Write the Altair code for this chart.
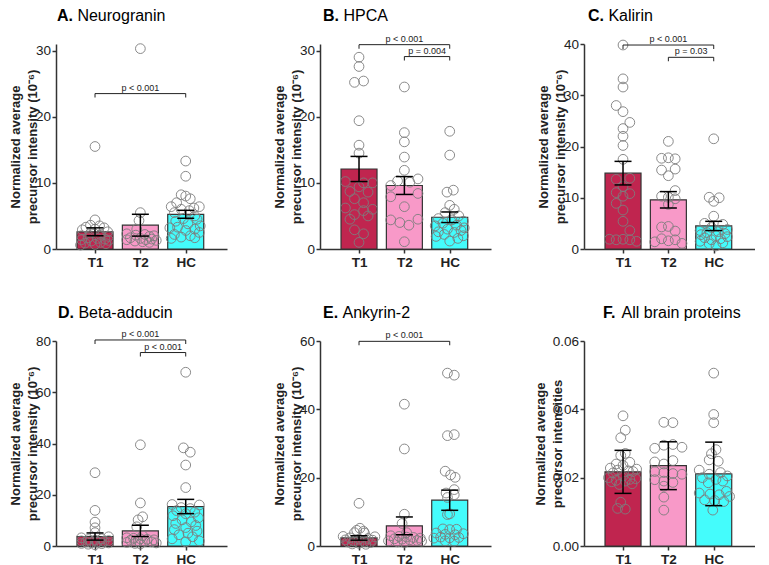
import altair as alt
import pandas as pd

FONT = "Liberation Sans"
GROUPS = ["T1", "T2", "HC"]
BAR_COLORS = ["#C0254F", "#F899C8", "#44FCFC"]

KEYS = ["A", "B", "C", "D", "E", "F"]
LETTERS = ["A.", "B.", "C.", "D.", "E.", "F."]
NAMES = ["Neurogranin", "HPCA", "Kalirin", "Beta-adducin", "Ankyrin-2", "All brain proteins"]
YTITLE_MAIN = ["Normalized average", "precursor intensity (10⁻⁶)"]
YTITLE_ALL = ["Normalized average", "precursor intensities"]
Y_MAX = [31, 31, 40, 80, 60, 0.06]
Y_TICKS = [[0, 10, 20, 30], [0, 10, 20, 30], [0, 10, 20, 30, 40],
           [0, 20, 40, 60, 80], [0, 20, 40, 60], [0, 0.02, 0.04, 0.06]]

# ---- individual points: values and horizontal jitter (in category units) ----
A_T1_VAL = [15.5, 4.4, 3.6, 3.5, 3.3, 3.2, 3.0, 2.9, 2.6, 2.4, 2.2, 2.0, 1.9, 1.7, 1.6, 1.5, 1.4, 1.3, 1.2, 1.0, 0.9, 0.8, 0.7, 0.6]
A_T1_OFF = [0, 0, -0.1, 0.1, -0.2, 0.2, 0, -0.28, 0.28, -0.1, 0.12, -0.3, 0.3, -0.15, 0.05, 0.22, -0.3, 0.3, -0.08, 0.12, -0.22, 0.24, 0, -0.32]
A_T2_VAL = [30.3, 5.5, 4.3, 3.0, 2.3, 2.2, 2.1, 2.0, 1.9, 1.7, 1.6, 1.5, 1.4, 1.4, 1.3, 1.2, 1.1, 1.0]
A_T2_OFF = [0, 0, -0.03, -0.08, -0.3, 0.1, -0.1, 0.3, 0.2, -0.22, 0.0, 0.25, -0.3, 0.12, 0.35, -0.12, 0.05, 0.2]
A_HC_VAL = [13.3, 11.0, 8.2, 8.0, 7.6, 7.0, 6.4, 6.4, 6.2, 6.0, 5.8, 5.5, 5.0, 4.6, 4.5, 4.2, 3.8, 3.5, 3.3, 3.2, 3.0, 2.8, 2.5, 2.2, 2.0, 1.8, 1.7, 1.6]
A_HC_OFF = [0, 0, -0.1, 0, 0.1, -0.2, -0.32, 0.3, 0.18, -0.1, 0.08, -0.25, 0.2, -0.05, 0.25, -0.22, 0.05, 0.32, -0.18, -0.35, 0.2, 0, 0.3, -0.25, 0.1, -0.1, 0.2, -0.32]

B_T1_VAL = [29.0, 27.6, 25.2, 25.4, 19.4, 15.7, 14.5, 10.2, 10.0, 10.0, 9.4, 8.7, 8.6, 7.6, 7.0, 6.2, 6.0, 5.8, 5.2, 5.0, 4.5, 2.9, 2.3, 1.0]
B_T1_OFF = [0, 0, -0.1, 0.1, 0, 0, 0, -0.3, 0.3, 0.1, 0, -0.2, 0.2, -0.1, 0.1, -0.3, 0.3, 0.1, -0.1, 0.2, -0.2, -0.1, 0.1, 0]
B_T2_VAL = [24.5, 17.6, 16.2, 13.9, 11.9, 10.6, 10.3, 10.1, 9.6, 8.4, 7.9, 6.4, 4.5, 4.4, 4.0, 3.6, 1.1]
B_T2_OFF = [0, 0, 0, 0, 0, 0.3, -0.15, 0.12, -0.3, 0.3, -0.3, 0, 0.3, -0.3, -0.1, 0.1, 0]
B_HC_VAL = [17.8, 14.2, 8.9, 8.6, 6.6, 6.0, 5.5, 5.0, 4.6, 4.4, 4.2, 3.9, 3.6, 3.5, 3.2, 3.0, 2.8, 2.6, 2.5, 2.2, 2.0, 1.9, 1.6, 1.2]
B_HC_OFF = [0, 0, 0.08, -0.06, 0, 0.1, -0.1, 0.2, -0.25, 0.05, 0.3, -0.15, 0.15, -0.32, 0.32, -0.05, 0.25, -0.25, 0.1, -0.12, 0.3, -0.3, 0.18, 0]

C_T1_VAL = [39.8, 33.2, 31.6, 28.0, 26.8, 24.7, 23.5, 22.0, 20.2, 17.5, 13.8, 13.6, 12.2, 11.0, 10.8, 10.3, 8.9, 7.6, 5.4, 3.6, 1.9, 1.8, 1.9, 1.8, 1.5]
C_T1_OFF = [0, 0, 0, -0.15, 0, 0.15, 0, 0, 0, 0, 0.15, -0.15, 0, -0.15, 0.15, 0, -0.15, 0, 0, 0.15, -0.3, -0.15, 0, 0.15, 0.3]
C_T2_VAL = [21.0, 17.7, 17.8, 17.6, 15.4, 15.6, 14.3, 11.4, 10.3, 10.1, 9.8, 8.7, 4.4, 4.3, 3.5, 2.0, 1.8, 1.6, 1.4, 1.1]
C_T2_OFF = [0, -0.15, 0, 0.15, -0.15, 0.15, 0, 0.15, -0.15, 0, 0.15, 0, 0, -0.15, 0.15, -0.15, 0.15, 0, -0.3, 0.3]
C_HC_VAL = [21.5, 10.1, 10.0, 9.3, 6.4, 5.0, 4.8, 4.2, 3.8, 3.6, 3.4, 3.2, 3.0, 2.8, 2.6, 2.4, 2.2, 2.0, 1.8, 1.5, 1.2, 1.0, 0.6]
C_HC_OFF = [0, -0.1, 0.12, 0, 0, -0.2, 0.2, -0.05, 0.3, -0.3, 0.1, -0.15, 0.25, -0.28, 0.05, 0.3, -0.2, 0.15, -0.05, -0.3, 0.2, -0.1, 0.05]

D_T1_VAL = [28.6, 13.9, 9.3, 7.1, 5.2, 3.6, 3.2, 2.8, 2.5, 2.3, 2.1, 2.0, 1.8, 1.6, 1.5, 1.3, 1.2, 1.0, 0.9, 0.7, 0.5]
D_T1_OFF = [0, 0, 0, 0, 0, 0.3, -0.3, 0.15, -0.15, 0, 0.3, -0.3, 0.2, -0.2, 0.05, -0.08, 0.3, -0.3, 0.15, -0.15, 0]
D_T2_VAL = [39.5, 16.8, 11.4, 10.2, 7.5, 4.0, 3.2, 3.0, 2.8, 2.6, 2.4, 2.2, 2.0, 1.8, 1.6, 1.4, 1.2, 1.0, 0.8]
D_T2_OFF = [0, 0, 0.05, -0.05, -0.08, 0.05, -0.3, -0.15, 0, 0.15, 0.3, -0.22, -0.05, 0.1, 0.25, -0.3, 0.35, -0.12, 0]
D_HC_VAL = [67.8, 38.3, 36.6, 31.6, 22.8, 16.2, 16.0, 15.0, 14.6, 13.8, 13.2, 12.6, 11.8, 11.0, 10.2, 9.4, 8.8, 8.0, 7.2, 6.4, 5.8, 5.0, 4.4, 3.6, 2.8, 2.0, 1.6]
D_HC_OFF = [0, -0.05, 0.1, 0, 0, -0.3, 0.3, -0.1, 0.1, -0.2, 0.2, 0, -0.28, 0.28, -0.08, 0.12, -0.22, 0.22, 0, -0.25, 0.25, 0.05, -0.15, 0.15, -0.3, 0.3, 0]

E_T1_VAL = [12.5, 5.2, 4.6, 4.3, 3.9, 3.8, 2.8, 2.7, 2.4, 2.2, 2.0, 1.8, 1.7, 1.5, 1.3, 1.2, 1.0, 0.8, 0.6, 0.5]
E_T1_OFF = [0, 0.02, -0.05, 0.1, -0.1, 0.12, -0.35, 0.35, -0.2, 0.2, 0, -0.3, 0.3, -0.12, 0.12, -0.25, 0.25, 0, -0.15, 0.15]
E_T2_VAL = [41.5, 28.4, 9.3, 6.6, 3.9, 3.0, 2.8, 2.6, 2.5, 2.3, 2.1, 2.0, 1.8, 1.6, 1.5, 1.4, 1.2, 1.0]
E_T2_OFF = [0, 0, 0, -0.05, 0.05, -0.3, -0.12, 0.05, 0.2, 0.35, -0.22, -0.05, 0.12, 0.28, -0.35, 0.38, -0.15, 0]
E_HC_VAL = [50.6, 50.0, 32.3, 32.6, 21.9, 20.8, 20.1, 16.5, 15.5, 15.0, 14.2, 9.4, 9.2, 5.0, 4.9, 4.8, 3.8, 3.6, 3.4, 3.3, 2.6, 2.5, 2.4, 2.3, 1.5, 1.4]
E_HC_OFF = [-0.05, 0.1, -0.05, 0.1, -0.1, 0.02, 0.12, 0.1, -0.08, 0.1, -0.05, 0, -0.05, -0.15, 0.15, 0, -0.3, 0.3, -0.1, 0.12, -0.2, 0.2, 0, -0.35, -0.1, 0.1]

F_T1_VAL = [0.0381, 0.0339, 0.0317, 0.0271, 0.0265, 0.0245, 0.0240, 0.0236, 0.0228, 0.0225, 0.0222, 0.0220, 0.0218, 0.0214, 0.0205, 0.0200, 0.0197, 0.0195, 0.0192, 0.0190, 0.0188, 0.0182, 0.0180, 0.0128, 0.0110, 0.0108]
F_T1_OFF = [0, 0.05, -0.05, 0.05, -0.05, 0.15, -0.15, 0, -0.28, 0.3, -0.12, 0.12, 0.22, -0.22, 0, -0.32, 0.28, 0.15, -0.15, 0.05, -0.25, 0.2, -0.08, -0.05, -0.12, 0.05]
F_T2_VAL = [0.0362, 0.0361, 0.0295, 0.0297, 0.0289, 0.0286, 0.0250, 0.0246, 0.0240, 0.0218, 0.0215, 0.0212, 0.0210, 0.0194, 0.0190, 0.0186, 0.0175, 0.0143, 0.0105]
F_T2_OFF = [-0.1, 0.1, -0.1, 0.1, 0.3, -0.3, 0.1, -0.3, -0.1, -0.3, -0.1, 0.1, 0.3, -0.3, -0.1, 0.1, -0.1, -0.1, -0.1]
F_HC_VAL = [0.0506, 0.0385, 0.0361, 0.0282, 0.0270, 0.0252, 0.0248, 0.0222, 0.0215, 0.0210, 0.0205, 0.0200, 0.0195, 0.0190, 0.0185, 0.0160, 0.0155, 0.0152, 0.0150, 0.0145, 0.0135, 0.0133, 0.0130, 0.0105]
F_HC_OFF = [0, 0, 0, 0.05, -0.05, -0.1, 0.1, -0.32, 0.15, -0.1, 0.3, -0.25, 0.05, 0.2, -0.12, 0.28, -0.32, -0.08, 0.12, 0.35, -0.2, 0.02, 0.22, -0.02]

POINTS = {
    "A": [(A_T1_VAL, A_T1_OFF), (A_T2_VAL, A_T2_OFF), (A_HC_VAL, A_HC_OFF)],
    "B": [(B_T1_VAL, B_T1_OFF), (B_T2_VAL, B_T2_OFF), (B_HC_VAL, B_HC_OFF)],
    "C": [(C_T1_VAL, C_T1_OFF), (C_T2_VAL, C_T2_OFF), (C_HC_VAL, C_HC_OFF)],
    "D": [(D_T1_VAL, D_T1_OFF), (D_T2_VAL, D_T2_OFF), (D_HC_VAL, D_HC_OFF)],
    "E": [(E_T1_VAL, E_T1_OFF), (E_T2_VAL, E_T2_OFF), (E_HC_VAL, E_HC_OFF)],
    "F": [(F_T1_VAL, F_T1_OFF), (F_T2_VAL, F_T2_OFF), (F_HC_VAL, F_HC_OFF)],
}

# ---- bar heights (means) and error half-widths, per panel, order T1, T2, HC ----
MEANS = {
    "A": [2.6, 3.6, 5.25],
    "B": [12.1, 9.6, 4.8],
    "C": [14.8, 9.6, 4.5],
    "D": [3.7, 5.9, 15.4],
    "E": [2.35, 5.9, 13.4],
    "F": [0.0217, 0.0235, 0.0211],
}
ERRS = {
    "A": [0.6, 1.65, 0.6],
    "B": [1.9, 1.35, 0.8],
    "C": [2.3, 1.6, 0.9],
    "D": [1.4, 2.2, 2.8],
    "E": [0.65, 2.6, 2.95],
    "F": [0.0063, 0.0070, 0.0093],
}

# ---- significance brackets: (from, to, height, label) ----
BRACKETS = {
    "A": [("T1", "HC", 23.5, "p < 0.001")],
    "B": [("T1", "HC", 30.9, "p < 0.001"), ("T2", "HC", 29.1, "p = 0.004")],
    "C": [("T1", "HC", 39.8, "p < 0.001"), ("T2", "HC", 37.4, "p = 0.03")],
    "D": [("T1", "HC", 80.4, "p < 0.001"), ("T2", "HC", 75.5, "p < 0.001")],
    "E": [("T1", "HC", 59.9, "p < 0.001")],
    "F": [],
}

W, H = 171, 205
TITLE_DX = [1, 3, 4, 2, 3, 19]
LETTER_W = [16.0, 16.0, 16.0, 16.0, 15.1, 14.2]
YTITLE_X = [-34, -34, -34, -34, -34, -37]
POS = {g: i + 1 for i, g in enumerate(GROUPS)}
LABEL_EXPR = " : ".join(f"datum.value == {i + 1} ? '{g}'" for i, g in enumerate(GROUPS)) + " : ''"
INK = "#222222"


def panel(idx):
    key = KEYS[idx]
    ymax = Y_MAX[idx]
    fmt = ".2f" if key == "F" else "d"
    ytitle = YTITLE_ALL if key == "F" else YTITLE_MAIN

    def X(field):
        return alt.X(f"{field}:Q",
                     scale=alt.Scale(domain=[0.25, 3.8], nice=False, zero=False),
                     axis=alt.Axis(values=[1, 2, 3], labelExpr=LABEL_EXPR, title=None, grid=False,
                                   labelFontWeight="bold", labelFontSize=13.5, tickSize=4,
                                   labelPadding=2, labelFlush=False))

    def Y(field):
        return alt.Y(f"{field}:Q",
                     scale=alt.Scale(domain=[0, ymax], nice=False, zero=True),
                     axis=alt.Axis(values=Y_TICKS[idx], format=fmt, title=ytitle, grid=False,
                                   tickSize=4, labelFontSize=13.5, labelPadding=1.5,
                                   titleX=YTITLE_X[idx], titleY=H / 2, titleAngle=270,
                                   titleAlign="center", titleBaseline="bottom", titleLineHeight=17))

    bars_df = pd.DataFrame({
        "group": GROUPS,
        "x": [POS[g] for g in GROUPS],
        "mean": MEANS[key],
        "err": ERRS[key],
    })
    bars_df["lo"] = bars_df["mean"] - bars_df["err"]
    bars_df["hi"] = bars_df["mean"] + bars_df["err"]

    rows = []
    for g, (vals, offs) in zip(GROUPS, POINTS[key]):
        for v, o in zip(vals, offs):
            rows.append({"group": g, "x": POS[g] + o, "val": v})
    pts_df = pd.DataFrame(rows)

    bars = alt.Chart(bars_df).mark_bar(size=36, stroke="#333333", strokeWidth=1.2).encode(
        x=X("x"), y=Y("mean"),
        color=alt.Color("group:N", scale=alt.Scale(domain=GROUPS, range=BAR_COLORS), legend=None))
    pts = alt.Chart(pts_df).mark_point(shape="circle", filled=False, size=95, color="#7d7d7d",
                                       strokeWidth=0.9, opacity=1).encode(x=X("x"), y=Y("val"))
    err_rule = alt.Chart(bars_df).mark_rule(color="black", strokeWidth=1.5).encode(
        x=X("x"), y=Y("lo"), y2="hi:Q")
    cap_lo = alt.Chart(bars_df).mark_tick(orient="horizontal", size=17, thickness=1.5,
                                          color="black", opacity=1).encode(x=X("x"), y=Y("lo"))
    cap_hi = alt.Chart(bars_df).mark_tick(orient="horizontal", size=17, thickness=1.5,
                                          color="black", opacity=1).encode(x=X("x"), y=Y("hi"))
    layers = [bars, pts, err_rule, cap_lo, cap_hi]

    if BRACKETS[key]:
        br_df = pd.DataFrame([{"x1": POS[a], "x2": POS[b], "xm": (POS[a] + POS[b]) / 2, "y": y, "label": t}
                              for a, b, y, t in BRACKETS[key]])
        ends_df = pd.DataFrame([{"ex": POS[e], "y": y} for a, b, y, t in BRACKETS[key] for e in (a, b)])
        layers.append(alt.Chart(br_df).mark_rule(color=INK, strokeWidth=1).encode(
            x=X("x1"), x2="x2:Q", y=Y("y")))
        layers.append(alt.Chart(ends_df).mark_tick(orient="vertical", size=4, thickness=1, color=INK,
                                                   opacity=1, yOffset=2).encode(x=X("ex"), y=Y("y")))
        layers.append(alt.Chart(br_df).mark_text(fontSize=9, font=FONT, baseline="alphabetic", dy=-3,
                                                 color=INK).encode(x=X("xm"), y=Y("y"), text="label:N"))

    letter = alt.Chart(pd.DataFrame({"t": [LETTERS[idx]]})).mark_text(
        align="left", baseline="alphabetic", fontSize=16, fontWeight="bold", font=FONT, color="black"
    ).encode(text="t:N", x=alt.value(TITLE_DX[idx]), y=alt.value(-23))
    name = alt.Chart(pd.DataFrame({"t": [NAMES[idx]]})).mark_text(
        align="left", baseline="alphabetic", fontSize=16, font=FONT, color="black"
    ).encode(text="t:N", x=alt.value(TITLE_DX[idx] + LETTER_W[idx] + 4.4), y=alt.value(-23))
    layers += [letter, name]

    return alt.layer(*layers).properties(width=W, height=H)


chart = alt.concat(
    *[panel(i) for i in range(6)],
    columns=3,
    spacing=alt.RowColnumber(row=92, column=93),
    bounds="flush",
).properties(
    padding=0
).configure_view(stroke=None).configure_axis(
    domainColor="#333333", tickColor="#333333", domainWidth=1.5, tickWidth=1.5,
    labelColor=INK, titleColor=INK, labelFont=FONT, titleFont=FONT,
    titleFontSize=13, titleFontWeight="bold"
)

chart.save("out.html", embed_options={"renderer": "svg", "actions": False})
